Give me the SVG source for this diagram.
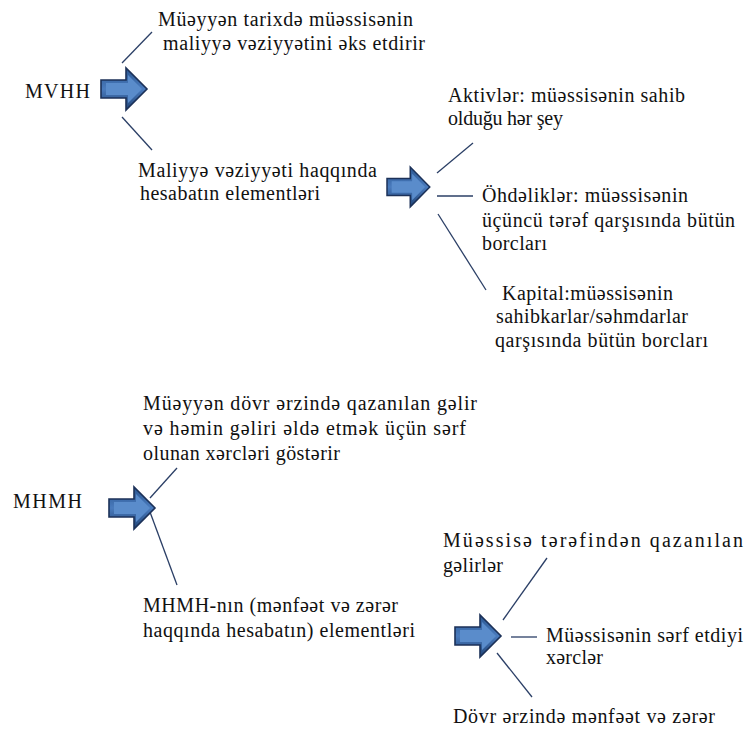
<svg xmlns="http://www.w3.org/2000/svg" width="744" height="731" viewBox="0 0 744 731">
<style>
text{font-family:'Liberation Serif','Times New Roman',serif;font-size:20px;fill:#111;}
.c{stroke:#2b3f66;stroke-width:1.3;fill:none;}
.arr{fill:url(#g);stroke:#1c3158;stroke-width:1.6;stroke-linejoin:miter;}
.inn{fill:#5a8ccb;stroke:none;}
</style>
<defs>
<linearGradient id="g" x1="0" y1="0" x2="0" y2="1">
<stop offset="0" stop-color="#2a5690"/>
<stop offset="0.5" stop-color="#4a7bbd"/>
<stop offset="1" stop-color="#1f4376"/>
</linearGradient>
<g id="arrow">
<polygon class="arr" points="0,12 25,12 25,0 46,21 25,42 25,30 0,30"/>
<polygon class="inn" points="5,15 27,15 27,7 41,21 27,35 27,27 5,27"/>
</g>
</defs>
<g id="connectors">
<line class="c" x1="122" y1="63" x2="152" y2="32"/>
<line class="c" x1="122" y1="117" x2="152" y2="150"/>
<line class="c" x1="437" y1="173" x2="473" y2="143"/>
<line class="c" x1="437" y1="196" x2="473" y2="196"/>
<line class="c" x1="438" y1="214" x2="486" y2="290"/>
<line class="c" x1="150" y1="498" x2="177" y2="468"/>
<line class="c" x1="150" y1="512" x2="177" y2="585"/>
<line class="c" x1="503" y1="620" x2="547" y2="558"/>
<line class="c" x1="511" y1="637" x2="537" y2="637"/>
<line class="c" x1="497" y1="653" x2="532" y2="697"/>
</g>
<g id="arrow1"><use href="#arrow" x="101" y="68"/></g>
<g id="arrow2"><use href="#arrow" x="387" y="167" transform="translate(387 167) scale(0.93 0.95) translate(-387 -167)"/></g>
<g id="arrow3"><use href="#arrow" x="109" y="487"/></g>
<g id="arrow4"><use href="#arrow" x="455" y="615"/></g>
<g id="mvhh"><text x="25" y="98" textLength="65">MVHH</text></g>
<g id="n1"><text x="158" y="26" textLength="255">Müəyyən tarixdə müəssisənin</text><text x="163" y="50" textLength="262">maliyyə vəziyyətini əks etdirir</text></g>
<g id="n2"><text x="138" y="177" textLength="239">Maliyyə vəziyyəti haqqında</text><text x="140" y="200" textLength="180">hesabatın elementləri</text></g>
<g id="n3"><text x="448" y="102" textLength="237">Aktivlər: müəssisənin  sahib</text><text x="448" y="125" textLength="115">olduğu hər şey</text></g>
<g id="n4"><text x="482" y="202" textLength="206">Öhdəliklər: müəssisənin</text><text x="482" y="227" textLength="253">üçüncü tərəf qarşısında bütün</text><text x="482" y="250" textLength="65">borcları</text></g>
<g id="n5"><text x="502" y="300" textLength="171">Kapital:müəssisənin</text><text x="496" y="323" textLength="192">sahibkarlar/səhmdarlar</text><text x="495" y="347" textLength="213">qarşısında bütün borcları</text></g>
<g id="mhmh"><text x="13" y="508" textLength="69">MHMH</text></g>
<g id="n6"><text x="143" y="410" textLength="334">Müəyyən dövr ərzində qazanılan gəlir</text><text x="143" y="435" textLength="323">və həmin gəliri  əldə etmək üçün sərf</text><text x="143" y="460" textLength="197">olunan xərcləri göstərir</text></g>
<g id="n7"><text x="143" y="612" textLength="255">MHMH-nın (mənfəət və zərər</text><text x="143" y="637" textLength="272">haqqında hesabatın) elementləri</text></g>
<g id="n8"><text x="443" y="547" textLength="300">Müəssisə   tərəfindən   qazanılan</text><text x="443" y="572" textLength="60">gəlirlər</text></g>
<g id="n9"><text x="546" y="642" textLength="197">Müəssisənin sərf etdiyi</text><text x="546" y="664" textLength="57">xərclər</text></g>
<g id="n10"><text x="453" y="723" textLength="262">Dövr ərzində mənfəət və zərər</text></g>
</svg>
